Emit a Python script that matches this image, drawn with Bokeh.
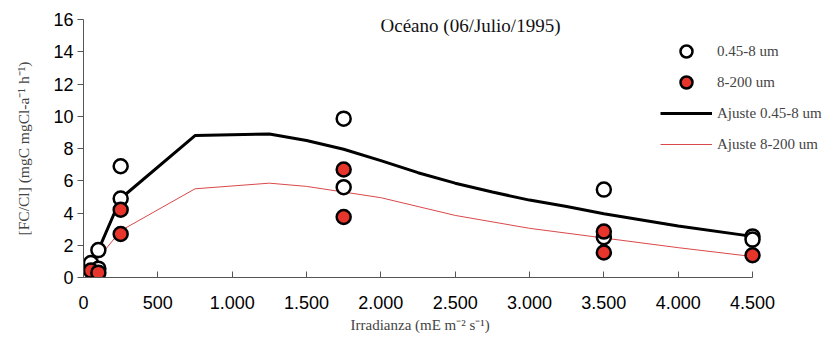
from bokeh.plotting import figure
from bokeh.models import (Range1d, FixedTicker, Legend, LegendItem, Label, Title)
from bokeh.embed import file_html
from bokeh.resources import INLINE

# ---- data ----
x_open = [50, 100, 100, 250, 250, 1750, 1750, 3500, 3500, 4500, 4500]
y_open = [0.9, 1.7, 0.55, 6.9, 4.9, 9.85, 5.6, 5.45, 2.5, 2.55, 2.35]

x_red = [50, 100, 250, 250, 1750, 1750, 3500, 3500, 4500]
y_red = [0.43, 0.3, 4.2, 2.7, 6.7, 3.75, 2.85, 1.55, 1.38]

x_fit_open = [50, 100, 250, 750, 1250, 1500, 1750, 2000, 2250, 2500, 2750, 3000, 3250, 3500, 4000, 4500]
y_fit_open = [0.9, 1.7, 4.9, 8.8, 8.9, 8.5, 7.95, 7.25, 6.5, 5.85, 5.3, 4.8, 4.4, 3.95, 3.2, 2.55]

x_fit_red = [50, 100, 250, 750, 1250, 1500, 1750, 2000, 2500, 3000, 3500, 4000, 4500]
y_fit_red = [0.55, 1.2, 2.9, 5.5, 5.85, 5.65, 5.3, 4.95, 3.85, 3.05, 2.45, 1.85, 1.3]

x_ticks = [0, 500, 1000, 1500, 2000, 2500, 3000, 3500, 4000, 4500]
x_tick_labels = ["0", "500", "1.000", "1.500", "2.000", "2.500", "3.000", "3.500", "4.000", "4.500"]
y_ticks = [0, 2, 4, 6, 8, 10, 12, 14, 16]

title_text = "Océano (06/Julio/1995)"
x_label = "Irradianza (mE m\u207b\u00b2 s\u207b\u00b9)"
y_label = "[FC/Cl] (mgC mgCl-a\u207b\u00b9 h\u207b\u00b9)"
legend_labels = ["0.45-8 um", "8-200 um", "Ajuste 0.45-8 um", "Ajuste 8-200 um"]

SERIF = "Liberation Serif"
SANS = "Liberation Sans"

X_MAX = 4500
X_VIEW_END = 5011  # frame extends past the axis end so the legend fits

p = figure(width=828, height=343, output_backend="svg", toolbar_location=None,
           x_range=Range1d(0, X_VIEW_END), y_range=Range1d(0, 16),
           min_border_left=83, min_border_right=0, min_border_top=19, min_border_bottom=66)
p.outline_line_color = None
p.grid.visible = False
p.background_fill_color = "white"
p.border_fill_color = "white"

r_fit_open = p.line(x_fit_open, y_fit_open, line_color="black", line_width=3)
r_fit_red = p.line(x_fit_red, y_fit_red, line_color="#d9484a", line_width=1)
r_open = p.scatter(x_open, y_open, size=14, fill_color="white", line_color="black", line_width=2.5)
r_red = p.scatter(x_red, y_red, size=14, fill_color="#e8352b", line_color="black", line_width=2.5)

# axes
xa = p.xaxis[0]
xa.bounds = (0, X_MAX)
xa.ticker = FixedTicker(ticks=x_ticks)
xa.major_label_overrides = {t: l for t, l in zip(x_ticks, x_tick_labels)}
xa.major_tick_in = 6
xa.major_tick_out = 0
xa.minor_tick_line_color = None
xa.axis_line_color = "#555555"
xa.major_tick_line_color = "#555555"
xa.major_label_text_font = SANS
xa.major_label_text_font_size = "18px"
xa.major_label_text_color = "black"
xa.major_label_standoff = 18

# x-axis title, centred under the 0-4500 axis span
p.add_layout(Title(text=x_label, align="left", offset=267, text_font=SERIF,
                   text_font_size="15px", text_font_style="normal", standoff=7), "below")

ya = p.yaxis[0]
ya.ticker = FixedTicker(ticks=y_ticks)
ya.major_tick_in = 0
ya.major_tick_out = 6
ya.minor_tick_line_color = None
ya.axis_line_color = "#555555"
ya.major_tick_line_color = "#555555"
ya.major_label_text_font = SANS
ya.major_label_text_font_size = "18px"
ya.major_label_text_color = "black"
ya.major_label_standoff = 4
ya.axis_label = y_label
ya.axis_label_text_font = SERIF
ya.axis_label_text_font_size = "15.5px"
ya.axis_label_text_font_style = "normal"
ya.axis_label_standoff = 18

# title as label
p.add_layout(Label(x=2603, y=15.6, text=title_text, text_font=SERIF, text_font_size="19px",
                   text_align="center", text_baseline="middle", text_color="#111111"))

legend = Legend(items=[
    LegendItem(label=legend_labels[0], renderers=[r_open]),
    LegendItem(label=legend_labels[1], renderers=[r_red]),
    LegendItem(label=legend_labels[2], renderers=[r_fit_open]),
    LegendItem(label=legend_labels[3], renderers=[r_fit_red]),
], location=(577, 118), glyph_width=52, glyph_height=30, spacing=1,
   label_standoff=5, padding=0, margin=0,
   label_text_font=SERIF, label_text_font_size="15px", label_text_baseline="middle",
   border_line_color=None, background_fill_alpha=0)
p.add_layout(legend, "center")

open("out.html", "w").write(file_html(p, INLINE))
